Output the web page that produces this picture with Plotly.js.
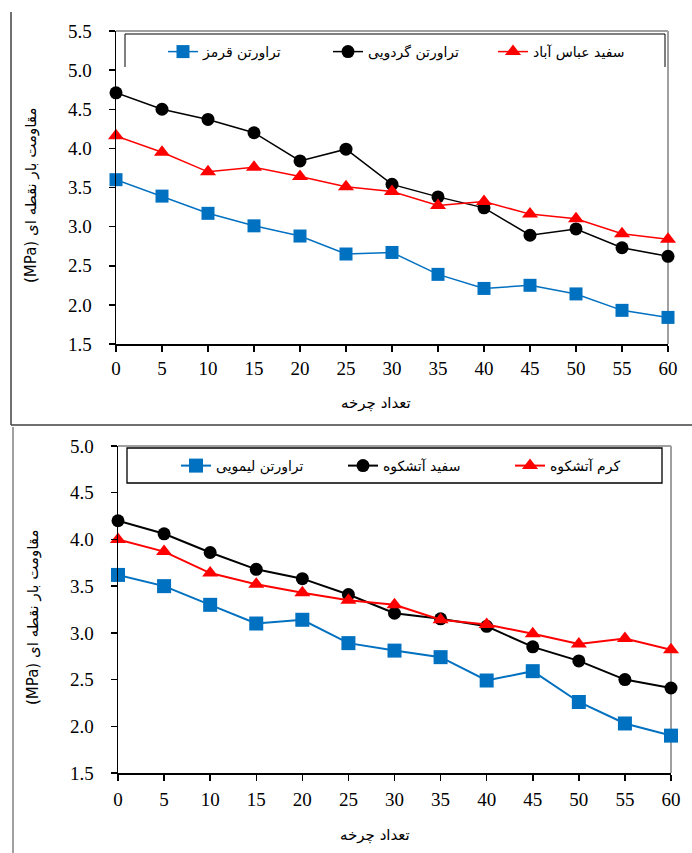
<!DOCTYPE html>
<html>
<head>
<meta charset="utf-8">
<script src="https://cdn.plot.ly/plotly-3.0.1.min.js"></script>
<style>html,body{margin:0;padding:0;background:#fff;}#chart{width:692px;height:853px;}</style>
</head>
<body>
<div id="chart"></div>
<script>
// ---- data ----
const cycles = [0, 5, 10, 15, 20, 25, 30, 35, 40, 45, 50, 55, 60];
const xTicks = [0, 5, 10, 15, 20, 25, 30, 35, 40, 45, 50, 55, 60];

// top chart
const topNames = ['تراورتن قرمز', 'تراورتن گردویی', 'سفید عباس آباد'];
const travertineQermez = [3.60, 3.39, 3.17, 3.01, 2.88, 2.65, 2.67, 2.39, 2.21, 2.25, 2.14, 1.93, 1.84];
const travertineGerdooyi = [4.71, 4.50, 4.37, 4.20, 3.84, 3.99, 3.54, 3.38, 3.24, 2.89, 2.97, 2.73, 2.62];
const sefidAbbasAbad = [4.16, 3.95, 3.70, 3.76, 3.64, 3.51, 3.45, 3.27, 3.32, 3.16, 3.10, 2.91, 2.84];
const topYTicks = [1.5, 2.0, 2.5, 3.0, 3.5, 4.0, 4.5, 5.0, 5.5];

// bottom chart
const bottomNames = ['تراورتن لیمویی', 'سفید آتشکوه', 'کرم آتشکوه'];
const travertineLimooyi = [3.62, 3.50, 3.30, 3.10, 3.14, 2.89, 2.81, 2.74, 2.49, 2.59, 2.26, 2.03, 1.90];
const sefidAtashkooh = [4.20, 4.06, 3.86, 3.68, 3.58, 3.41, 3.21, 3.15, 3.07, 2.85, 2.70, 2.50, 2.41];
const keremAtashkooh = [4.00, 3.87, 3.64, 3.52, 3.43, 3.35, 3.30, 3.14, 3.09, 2.99, 2.88, 2.94, 2.82];
const bottomYTicks = [1.5, 2.0, 2.5, 3.0, 3.5, 4.0, 4.5, 5.0];

const xTitle = 'تعداد چرخه';
const yTitle = '(MPa) مقاومت بار نقطه ای';

// ---- helpers ----
const W = 692, H = 853;
const px = x => x / W;
const py = y => 1 - y / H;

const BLUE = '#0070C0', RED = '#FF0000', BLACK = '#000000';
const tickFont = {family: 'Liberation Serif', size: 19, color: '#000'};
const faFont = {family: 'DejaVu Sans', size: 14, color: '#000'};
const faTitleFont = {family: 'DejaVu Sans', size: 15, color: '#000'};

function series(x, y, name, color, symbol, size, lw, xa, ya, leg) {
  return {
    x: x, y: y, name: name, type: 'scatter', mode: 'lines+markers',
    xaxis: xa, yaxis: ya, legend: leg, cliponaxis: false,
    line: {color: color, width: lw},
    marker: {color: color, symbol: symbol, size: size}
  };
}

const data = [
  series(cycles, travertineQermez, topNames[0], BLUE, 'square', 13, 1.5, 'x', 'y', 'legend'),
  series(cycles, travertineGerdooyi, topNames[1], BLACK, 'circle', 13, 1.5, 'x', 'y', 'legend'),
  series(cycles, sefidAbbasAbad, topNames[2], RED, 'triangle-up', 14, 1.5, 'x', 'y', 'legend'),
  series(cycles, travertineLimooyi, bottomNames[0], BLUE, 'square', 14, 2, 'x2', 'y2', 'legend2'),
  series(cycles, sefidAtashkooh, bottomNames[1], BLACK, 'circle', 13, 2, 'x2', 'y2', 'legend2'),
  series(cycles, keremAtashkooh, bottomNames[2], RED, 'triangle-up', 14, 2, 'x2', 'y2', 'legend2')
];

function xAxis(domain, anchor, standoff) {
  return {
    domain: domain, anchor: anchor, range: [0, 60], tickvals: xTicks,
    showgrid: false, zeroline: false, showline: true, linecolor: '#000', linewidth: 2,
    ticks: 'outside', ticklen: 6, tickwidth: 1.5, tickcolor: '#000',
    tickfont: tickFont, ticklabelstandoff: standoff, fixedrange: true
  };
}
function yAxis(domain, anchor, range, ticks) {
  return {
    domain: domain, anchor: anchor, range: range, tickvals: ticks, tickformat: '.1f',
    showgrid: false, zeroline: false, showline: true, linecolor: '#000', linewidth: 1.5,
    ticks: 'outside', ticklen: 6, tickwidth: 1.5, tickcolor: '#000',
    tickfont: tickFont, ticklabelstandoff: 13, fixedrange: true
  };
}

const line = (x0, y0, x1, y1, color, width) => ({
  type: 'line', xref: 'paper', yref: 'paper',
  x0: px(x0), y0: py(y0), x1: px(x1), y1: py(y1),
  line: {color: color, width: width}, layer: 'below'
});

const shapes = [
  // outer panel frames
  line(11, 12, 11, 425, '#404040', 1.5),
  line(11, 425, 692, 425, '#404040', 1.5),
  line(13, 427, 13, 853, '#808080', 1.5),
  // top plot gray border
  line(116, 31, 668, 31, '#a0a0a0', 2),
  line(668, 31, 668, 344, '#a0a0a0', 2),
  // top legend (open bottom)
  line(125, 34, 665, 34, '#000', 1),
  line(125, 34, 125, 67, '#000', 1),
  line(665, 34, 665, 67, '#000', 1),
  // bottom plot gray border
  line(118, 446, 671, 446, '#a0a0a0', 2),
  line(671, 446, 671, 773, '#a0a0a0', 2),
  // bottom legend box
  {type: 'rect', xref: 'paper', yref: 'paper', x0: px(127), y0: py(448), x1: px(662), y1: py(483),
   line: {color: '#000', width: 1.3}, fillcolor: 'rgba(0,0,0,0)', layer: 'below'}
];

const annotations = [
  {text: xTitle, xref: 'paper', yref: 'paper', x: px(376), y: py(403), showarrow: false,
   xanchor: 'center', yanchor: 'middle', font: faTitleFont},
  {text: yTitle, xref: 'paper', yref: 'paper', x: px(31), y: py(195), showarrow: false,
   xanchor: 'center', yanchor: 'middle', textangle: -90, font: faTitleFont},
  {text: xTitle, xref: 'paper', yref: 'paper', x: px(375), y: py(835), showarrow: false,
   xanchor: 'center', yanchor: 'middle', font: faTitleFont},
  {text: yTitle, xref: 'paper', yref: 'paper', x: px(33), y: py(617), showarrow: false,
   xanchor: 'center', yanchor: 'middle', textangle: -90, font: faTitleFont}
];

const legendBase = {
  orientation: 'h', xanchor: 'left', yanchor: 'middle', bgcolor: 'rgba(0,0,0,0)',
  borderwidth: 0, entrywidthmode: 'pixels', font: faFont,
  itemclick: false, itemdoubleclick: false, tracegroupgap: 0
};

const layout = {
  width: W, height: H,
  margin: {l: 0, r: 0, t: 0, b: 0, pad: 0},
  paper_bgcolor: '#fff', plot_bgcolor: 'rgba(0,0,0,0)',
  showlegend: true,
  xaxis: xAxis([px(116), px(668)], 'y', 0),
  yaxis: yAxis([py(344), py(31)], 'x', [1.5, 5.5], topYTicks),
  xaxis2: xAxis([px(118), px(671)], 'y2', 2),
  yaxis2: yAxis([py(773), py(446)], 'x2', [1.5, 5.0], bottomYTicks),
  legend: Object.assign({}, legendBase, {x: px(163), y: py(52), entrywidth: 120}),
  legend2: Object.assign({}, legendBase, {x: px(176), y: py(466), entrywidth: 122}),
  shapes: shapes,
  annotations: annotations
};

Plotly.newPlot('chart', data, layout, {displayModeBar: false, staticPlot: true});
</script>
</body>
</html>
